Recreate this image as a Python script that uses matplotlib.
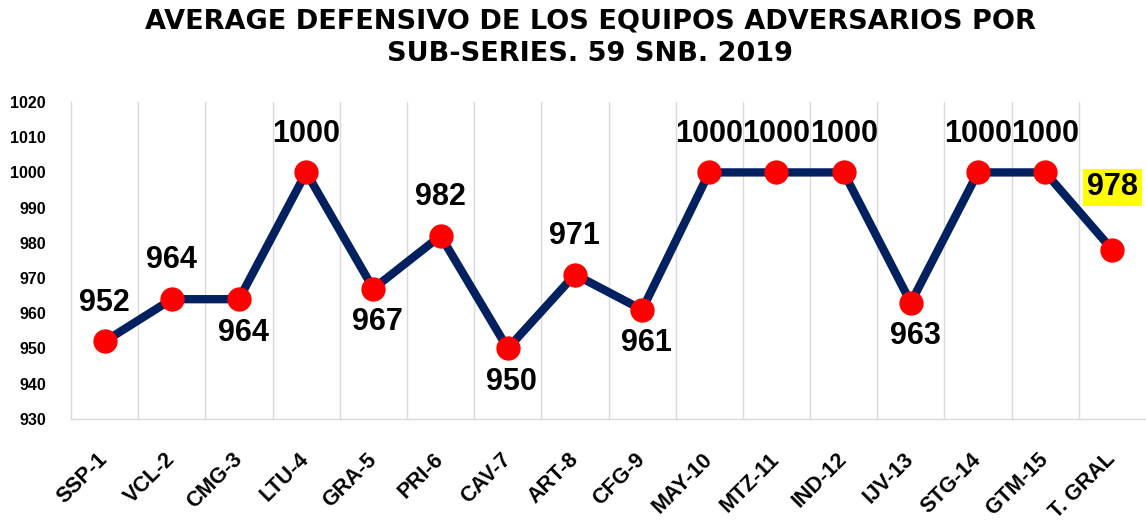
import numpy as np
import matplotlib.pyplot as plt
from matplotlib.ticker import MultipleLocator, FixedLocator

# data
teams = ['SSP-1', 'VCL-2', 'CMG-3', 'LTU-4', 'GRA-5', 'PRI-6', 'CAV-7', 'ART-8',
         'CFG-9', 'MAY-10', 'MTZ-11', 'IND-12', 'IJV-13', 'STG-14', 'GTM-15', 'T. GRAL']
avg = [952, 964, 964, 1000, 967, 982, 950, 971, 961, 1000, 1000, 1000, 963, 1000, 1000, 978]
where = ['a', 'a', 'b', 'a', 'b', 'a', 'b', 'a', 'b', 'a', 'a', 'a', 'b', 'a', 'a', 'a']

fig = plt.figure(figsize=(11.46, 5.23), dpi=100)
ax = fig.add_axes([0.062, 0.199, 0.938, 0.606])

x = np.arange(len(teams))
ax.plot(x, avg, color='#002060', lw=6, marker='o', ms=16.5,
        mfc='#ff0000', mec='#ff0000', zorder=3)

lab = dict(ha='center', va='center', fontsize=22, fontweight='bold',
           family='Liberation Sans', textcoords='offset points')
for i, (v, w) in enumerate(zip(avg, where)):
    if i == len(avg) - 1:
        ax.annotate(str(v), (i, v), xytext=(0, 45),
                    bbox=dict(boxstyle='square,pad=0.12', fc='#ffff00', ec='none'),
                    **lab)
    elif w == 'a':
        ax.annotate(str(v), (i, v), xytext=(0, 28), **lab)
    else:
        ax.annotate(str(v), (i, v), xytext=(3, -24), **lab)

ax.set_xlim(-0.5, len(teams) - 0.5)
ax.set_ylim(930, 1020)
ax.yaxis.set_major_locator(MultipleLocator(10))
ax.set_xticks(x)
ax.set_xticklabels(teams, rotation=45, ha='right', va='center',
                   rotation_mode='anchor', fontsize=15.5, fontweight='bold',
                   family='Liberation Sans')
ax.tick_params(axis='x', length=0, pad=27)
ax.tick_params(axis='y', length=0, pad=18, labelsize=11.5)
for t in ax.get_yticklabels():
    t.set_fontweight('bold')
    t.set_family('Liberation Sans')

ax.xaxis.set_minor_locator(FixedLocator(x[:-1] + 0.5))
ax.tick_params(axis='x', which='minor', length=0)
ax.grid(False)
ax.grid(True, which='minor', axis='x', color='#d9d9d9', lw=1)

for s in ['top', 'right']:
    ax.spines[s].set_visible(False)
for s in ['left', 'bottom']:
    ax.spines[s].set_color('#d9d9d9')
    ax.spines[s].set_linewidth(1)

fig.text(0.515, 0.958, 'AVERAGE DEFENSIVO DE LOS EQUIPOS ADVERSARIOS POR',
         ha='center', va='center', fontsize=19.5, fontweight='bold')
fig.text(0.515, 0.897, 'SUB-SERIES. 59 SNB. 2019',
         ha='center', va='center', fontsize=19.5, fontweight='bold')

fig.savefig('out.png', dpi=100)
